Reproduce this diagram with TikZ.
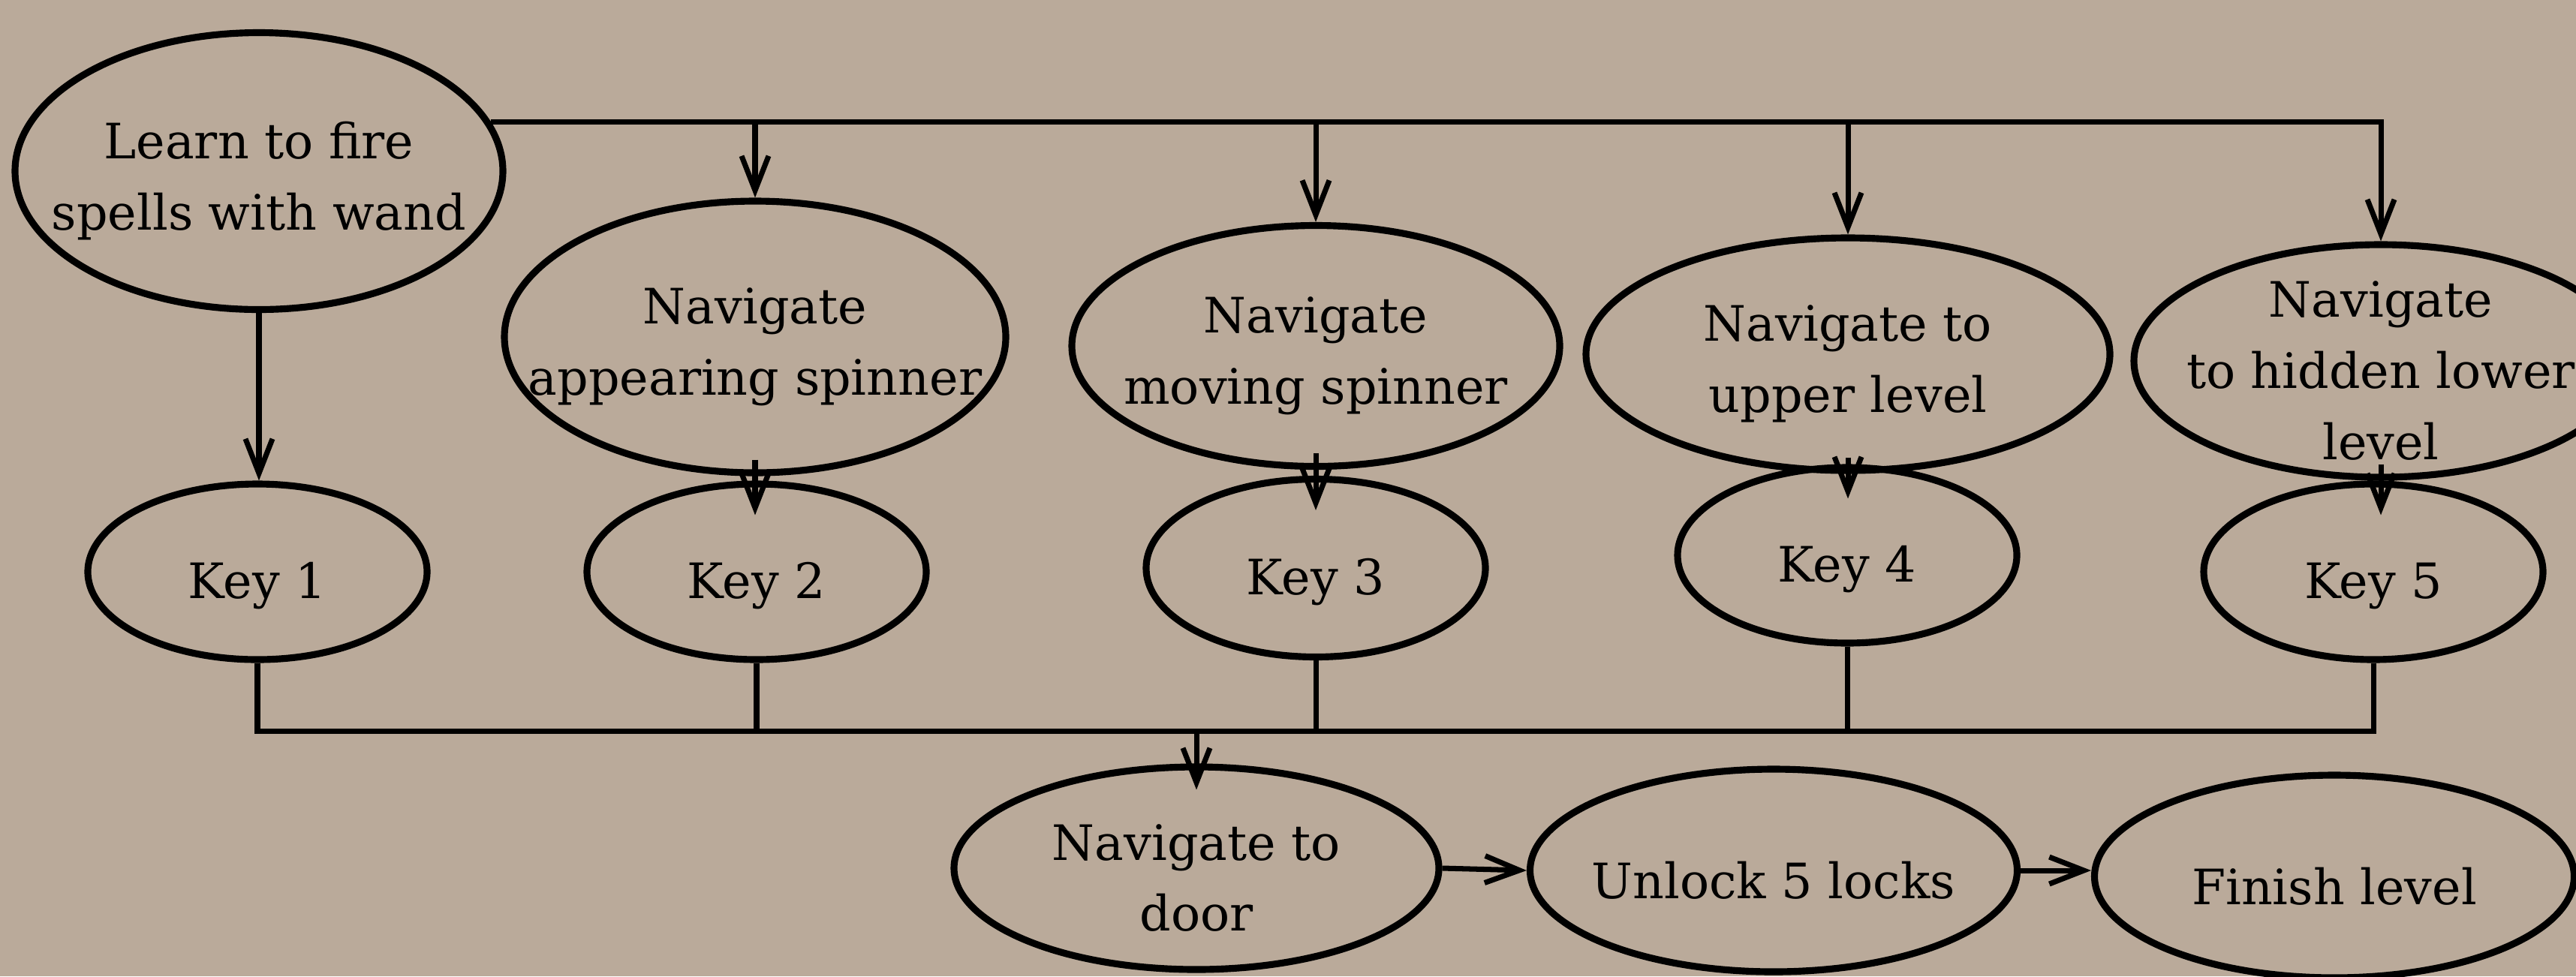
\documentclass[tikz,border=0pt]{standalone}
\usepackage{fontspec}
\setmainfont{DejaVu Serif}
\usepackage{tikz}
\usetikzlibrary{shapes.geometric, arrows.meta}
\definecolor{parchment}{RGB}{186,170,154}

\begin{document}
\begin{tikzpicture}[
    task/.style={ellipse, draw, line width=2.6pt, minimum width=6.5cm, minimum height=3.15cm, inner sep=0pt},
    lowtask/.style={task, minimum height=2.7cm},
    keynode/.style={ellipse, draw, line width=2.6pt, minimum width=4.52cm, minimum height=2.34cm, font=\fontsize{18.5}{27}\selectfont, text height=0.7cm, text depth=0pt},
    txt/.style={align=center, font=\fontsize{18.5}{27}\selectfont, yshift=-1.3mm},
    link/.style={line width=2pt},
    arrow/.style={link, -{Straight Barb[length=4.6mm, width=3.6mm]}}
]
\clip (0,0) rectangle (34.32,-13.01);
\fill[parchment] (0,0) rectangle (34.32,-13.01);

\node[task, minimum height=3.69cm, label={[txt]center:Learn to fire\\spells with wand}] (learn) at (3.45,-2.28) {};
\node[task, minimum width=6.68cm, minimum height=3.62cm, label={[txt]center:Navigate\\appearing spinner}] (nav2) at (10.06,-4.49) {};
\node[task, minimum height=3.21cm, label={[txt]center:Navigate\\moving spinner}] (nav3) at (17.53,-4.61) {};
\node[task, minimum width=6.98cm, minimum height=3.1cm, label={[txt]center:Navigate to\\upper level}] (nav4) at (24.62,-4.72) {};
\node[task, minimum width=6.58cm, minimum height=3.1cm, label={[txt]center:Navigate\\to hidden lower\\level}] (nav5) at (31.72,-4.81) {};

\node[keynode] (key1) at (3.43,-7.62) {Key 1};
\node[keynode] (key2) at (10.08,-7.62) {Key 2};
\node[keynode, minimum height=2.37cm] (key3) at (17.53,-7.57) {Key 3};
\node[keynode] (key4) at (24.61,-7.40) {Key 4};
\node[keynode] (key5) at (31.62,-7.62) {Key 5};

\node[lowtask, minimum width=6.46cm, label={[txt]center:Navigate to\\door}] (door) at (15.94,-11.57) {};
\node[lowtask, minimum width=6.49cm, label={[txt]center:Unlock 5 locks}] (unlock) at (23.63,-11.60) {};
\node[lowtask, minimum width=6.39cm, label={[txt]center:Finish level}] (finish) at (31.10,-11.68) {};

\coordinate (bus) at (0,-9.74);

\draw[arrow] (learn.12) -| (nav5.north);
\foreach \n in {nav2,nav3,nav4}
    \draw[arrow] (learn.12 -| \n.north) -- (\n.north);
\draw[arrow] (learn.south) -- (learn.south |- key1.north);
\foreach \n/\k in {nav2/key2, nav3/key3, nav4/key4, nav5/key5}
    \draw[arrow] ([yshift=2.2mm]\n.south) -- ([yshift=-4.6mm]\n.south |- \k.north);

\draw[link] (key1.south) |- (bus -| key5.south) -- (key5.south);
\foreach \k in {key2,key3,key4}
    \draw[link] (\k.south) -- (\k.south |- bus);
\draw[arrow] (door.north |- bus) -- ([yshift=-3.5mm]door.north);
\draw[arrow] (door.east) -- (unlock.west);
\draw[arrow] (unlock.east) -- (unlock.east -| finish.west);

\end{tikzpicture}
\end{document}
